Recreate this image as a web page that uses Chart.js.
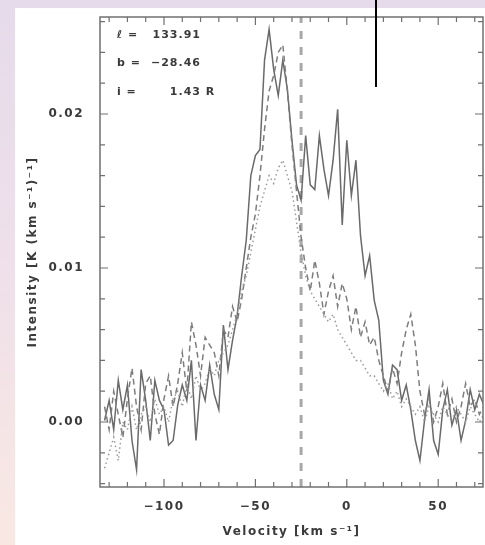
<!DOCTYPE html>
<html>
<head>
<meta charset="utf-8">
<script src="https://cdn.jsdelivr.net/npm/chart.js@4"></script>
<style>
  html,body{margin:0;padding:0;width:485px;height:545px;overflow:hidden;}
  body{background:linear-gradient(to bottom,#e6dbeb 0%,#efe0ea 50%,#f9e8e2 100%);position:relative;}
  #panel{position:absolute;left:15px;top:8px;width:470px;height:537px;background:#fff;}
  #wrap{position:absolute;left:0;top:0;width:485px;height:545px;filter:blur(0.6px);}
  #mark{position:absolute;left:375px;top:0;width:2px;height:87px;background:#000;}
</style>
</head>
<body>
<div id="panel"></div>
<div id="wrap"><canvas id="c" width="485" height="545"></canvas></div>
<div id="mark"></div>
<script>
// ---- data ----
const velocity = [
 -132.5,-130,-127.5,-125,-122.5,-120,-117.5,-115,-112.5,-110,-107.5,-105,-102.5,-100,
 -97.5,-95,-92.5,-90,-87.5,-85,-82.5,-80,-77.5,-75,-72.5,-70,-67.5,-65,-62.5,-60,
 -57.5,-55,-52.5,-50,-47.5,-45,-42.5,-40,-37.5,-35,-32.5,-30,-27.5,-25,-22.5,-20,
 -17.5,-15,-12.5,-10,-7.5,-5,-2.5,0,2.5,5,7.5,10,12.5,15,17.5,20,22.5,25,27.5,30,
 32.5,35,37.5,40,42.5,45,47.5,50,52.5,55,57.5,60,62.5,65,67.5,70,72.5,75
];
const solidProfile = [
 0.0001,0.0014,-0.0005,0.0027,0.0008,0.0024,-0.0012,-0.0031,0.0034,0.0014,-0.0012,0.0027,0.0014,0.0008,
 -0.0015,-0.0012,0.0011,0.0024,0.0014,0.0040,-0.0012,0.0024,0.0014,0.0037,0.0018,0.0008,0.0063,0.0034,0.0053,0.0069,
 0.0095,0.0118,0.0160,0.0173,0.0177,0.0235,0.0255,0.0229,0.0212,0.0235,0.0216,0.0183,0.0154,0.0144,0.0186,0.0154,
 0.0151,0.0186,0.0164,0.0147,0.0170,0.0203,0.0128,0.0183,0.0147,0.0170,0.0121,0.0095,0.0108,0.0079,0.0066,0.0027,0.0018,0.0037,0.0034,0.0014,
 0.0024,0.0008,-0.0012,-0.0025,0.0001,0.0021,-0.0012,-0.0021,0.0008,0.0021,-0.0002,0.0008,-0.0012,0.0001,0.0021,0.0008,0.0018,0.0011
];
const dashedProfile = [
 0.0010,-0.0005,0.0020,0.0005,-0.0010,0.0015,0.0035,0.0010,-0.0005,0.0025,0.0030,0.0005,-0.0008,0.0015,
 0.0030,0.0010,0.0025,0.0045,0.0020,0.0065,0.0050,0.0030,0.0055,0.0050,0.0045,0.0030,0.0060,0.0055,0.0075,0.0065,
 0.0080,0.0100,0.0120,0.0135,0.0160,0.0190,0.0215,0.0225,0.0240,0.0245,0.0215,0.0180,0.0150,0.0120,0.0100,0.0085,
 0.0105,0.0090,0.0070,0.0085,0.0095,0.0075,0.0090,0.0080,0.0060,0.0075,0.0055,0.0065,0.0050,0.0055,0.0040,0.0030,0.0020,0.0035,0.0025,0.0045,
 0.0060,0.0070,0.0050,0.0020,0.0005,0.0015,0.0000,0.0010,0.0025,0.0005,0.0015,0.0000,0.0010,0.0025,0.0010,0.0015,0.0005,0.0010
];
const dottedProfile = [
 -0.0030,-0.0020,-0.0010,-0.0025,0.0000,-0.0005,0.0010,-0.0005,0.0005,0.0010,0.0000,0.0015,0.0005,0.0010,
 0.0000,0.0015,0.0020,0.0010,0.0025,0.0015,0.0030,0.0020,0.0025,0.0035,0.0030,0.0040,0.0045,0.0050,0.0060,0.0070,
 0.0085,0.0095,0.0110,0.0125,0.0140,0.0150,0.0160,0.0155,0.0165,0.0170,0.0160,0.0150,0.0130,0.0110,0.0095,0.0085,
 0.0080,0.0075,0.0070,0.0065,0.0070,0.0060,0.0055,0.0050,0.0045,0.0040,0.0040,0.0035,0.0030,0.0030,0.0025,0.0020,0.0025,0.0015,0.0020,0.0010,
 0.0015,0.0010,0.0005,0.0010,0.0000,0.0010,0.0005,0.0000,0.0010,0.0005,0.0000,0.0010,0.0005,0.0000,0.0010,0.0005,0.0000,0.0005
];
const referenceVelocity = -25;
const xTicks = [-100, -50, 0, 50];
const yTicks = [0.00, 0.01, 0.02];
const infoLabels = ["ℓ =", "b =", "i ="];
const infoValues = ["133.91", "−28.46", "1.43"];
const infoUnits = ["", "", " R"];
const xTitle = "Velocity [km s⁻¹]";
const yTitle = "Intensity [K (km s⁻¹)⁻¹]";

// ---- chart ----
const X_MIN = -135, X_MAX = 74.5, Y_MIN = -0.00422, Y_MAX = 0.0263;
const pts = arr => velocity.map((v, i) => ({x: v, y: arr[i]}));
const FAMILY = "'DejaVu Sans', 'Liberation Sans', sans-serif";
const font = {family: FAMILY, size: 12, weight: 'bold'};
const TEXT = '#3a3a3a';

const spacingPlugin = {
  id: 'spacing',
  beforeInit(chart) { chart.ctx.letterSpacing = '1.5px'; },
  beforeDraw(chart) { chart.ctx.letterSpacing = '1.5px'; }
};

const framePlugin = {
  id: 'frame',
  afterDatasetsDraw(chart) {
    const {ctx, chartArea: a, scales: {x, y}} = chart;
    ctx.save();
    ctx.strokeStyle = '#707070';
    ctx.lineWidth = 1.5;
    ctx.strokeRect(a.left, a.top, a.right - a.left, a.bottom - a.top);
    ctx.lineWidth = 1.2;
    ctx.beginPath();
    for (let v = -130; v <= 70; v += 10) {
      const px = x.getPixelForValue(v);
      const len = (v % 50 === 0) ? 8 : 5;
      ctx.moveTo(px, a.bottom); ctx.lineTo(px, a.bottom - len);
      ctx.moveTo(px, a.top); ctx.lineTo(px, a.top + len);
    }
    for (let k = -2; k <= 13; k++) {
      const v = k * 0.002;
      const py = y.getPixelForValue(v);
      const len = (k % 5 === 0) ? 8 : 5;
      ctx.moveTo(a.left, py); ctx.lineTo(a.left + len, py);
      ctx.moveTo(a.right, py); ctx.lineTo(a.right - len, py);
    }
    ctx.stroke();
    ctx.fillStyle = TEXT;
    ctx.letterSpacing = '1px';
    ctx.font = "bold 11px " + FAMILY;
    ctx.textBaseline = 'middle';
    infoLabels.forEach((t, i) => {
      const ty = a.top + 18 + i * 28.5;
      ctx.textAlign = 'left';
      ctx.fillText(t, a.left + 17, ty);
      ctx.textAlign = 'right';
      ctx.fillText(infoValues[i], a.left + 101, ty);
      ctx.textAlign = 'left';
      if (infoUnits[i]) ctx.fillText(infoUnits[i], a.left + 101, ty);
    });
    ctx.restore();
  }
};

new Chart(document.getElementById('c'), {
  type: 'line',
  data: {
    datasets: [
      {data: pts(dottedProfile), borderColor: '#9a9a9a', borderWidth: 1.5, borderDash: [1.5, 3]},
      {data: pts(dashedProfile), borderColor: '#7d7d7d', borderWidth: 1.5, borderDash: [6, 4]},
      {data: pts(solidProfile), borderColor: '#6a6a6a', borderWidth: 1.5},
      {data: [{x: referenceVelocity, y: Y_MIN}, {x: referenceVelocity, y: Y_MAX}],
       borderColor: '#a8a8a8', borderWidth: 3, borderDash: [8, 8]}
    ]
  },
  options: {
    responsive: false, animation: false, devicePixelRatio: 1,
    layout: {padding: {top: 17, right: 2, left: 0, bottom: 0}},
    elements: {point: {radius: 0}, line: {tension: 0}},
    plugins: {legend: {display: false}, tooltip: {enabled: false}},
    scales: {
      x: {
        type: 'linear', min: X_MIN, max: X_MAX,
        grid: {display: false}, border: {display: false},
        afterBuildTicks: s => { s.ticks = xTicks.map(v => ({value: v})); },
        afterFit: s => { s.height = 58; },
        ticks: {font, color: TEXT, padding: 5, maxRotation: 0,
          callback: v => (v < 0 ? '\u2212' + Math.abs(v) : String(v))},
        title: {display: true, text: xTitle, font, color: TEXT, padding: {top: 0, bottom: 6}}
      },
      y: {
        type: 'linear', min: Y_MIN, max: Y_MAX,
        grid: {display: false}, border: {display: false},
        afterBuildTicks: s => { s.ticks = yTicks.map(v => ({value: v})); },
        afterFit: s => { s.width = 100; },
        ticks: {font, color: TEXT, padding: 8, callback: v => v.toFixed(2)},
        title: {display: true, text: yTitle, font, color: TEXT, padding: {top: 26, bottom: 0}}
      }
    }
  },
  plugins: [spacingPlugin, framePlugin]
});
</script>
</body>
</html>
